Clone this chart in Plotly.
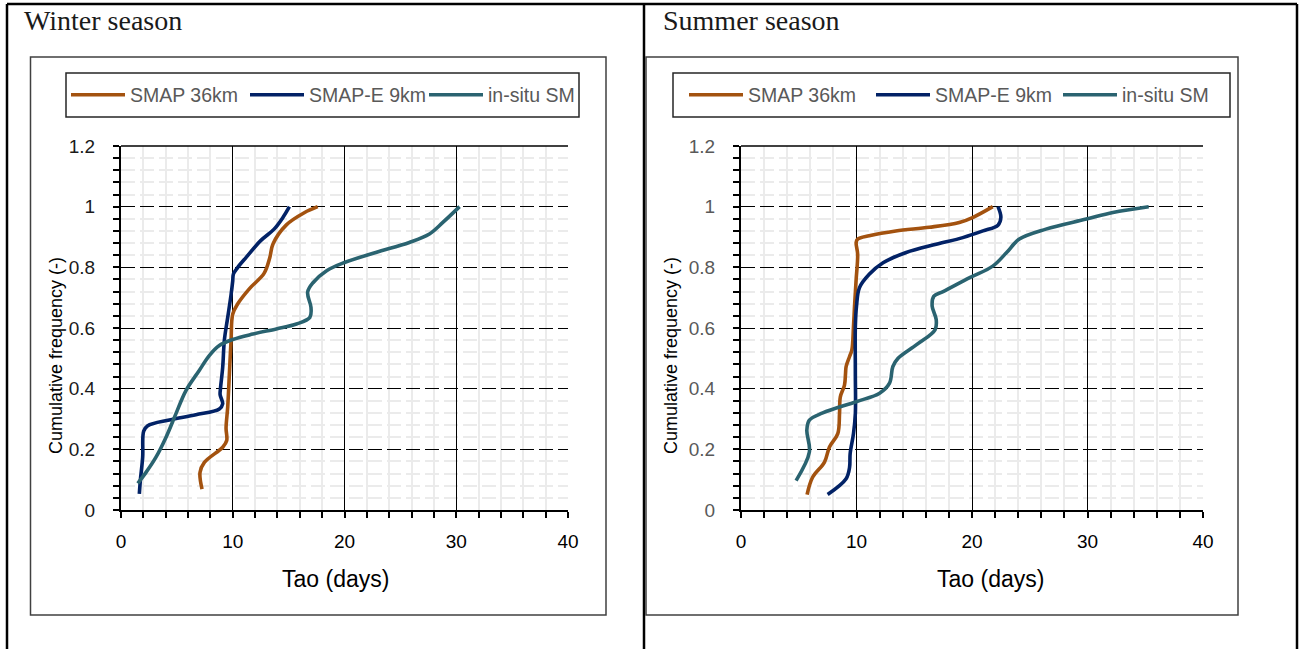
import plotly.graph_objects as go

W, H = 1306, 649

# ---------------- data ----------------
series_names = ["SMAP 36km", "SMAP-E 9km", "in-situ SM"]
series_colors = ["#A3520F", "#022266", "#2A6370"]

# Winter season
win_smap36_tau = [7.25, 7.07, 7.46, 9.1, 9.46, 9.4, 9.55, 9.7, 9.85, 10.0, 10.45, 11.5, 12.8, 13.3, 13.6, 14.8, 16.4, 17.6]
win_smap36_cf  = [0.069, 0.124, 0.157, 0.207, 0.229, 0.27, 0.34, 0.45, 0.56, 0.646, 0.68, 0.73, 0.78, 0.83, 0.877, 0.94, 0.98, 1.0]

win_smape9_tau = [1.64, 1.73, 1.94, 2.03, 2.39, 4.33, 6.7, 8.8, 9.1, 8.87, 8.9, 9.1, 9.25, 9.55, 9.85, 10.0, 10.06, 10.45, 11.2, 12.5, 13.7, 14.5, 15.07]
win_smape9_cf  = [0.053, 0.097, 0.174, 0.26, 0.278, 0.297, 0.314, 0.333, 0.35, 0.38, 0.4, 0.47, 0.56, 0.635, 0.71, 0.756, 0.778, 0.8, 0.833, 0.888, 0.926, 0.965, 1.0]

win_insitu_tau = [1.5, 2.24, 3.13, 4.03, 4.9, 5.8, 7.0, 7.9, 8.8, 10.0, 11.8, 13.9, 15.7, 16.9, 17.0, 16.7, 17.2, 18.4, 20.0, 22.8, 25.8, 27.6, 28.8, 30.3]
win_insitu_cf  = [0.088, 0.124, 0.174, 0.24, 0.316, 0.393, 0.46, 0.509, 0.542, 0.562, 0.58, 0.597, 0.613, 0.635, 0.668, 0.718, 0.75, 0.789, 0.816, 0.849, 0.882, 0.91, 0.948, 1.0]

# Summer season
sum_smap36_tau = [5.72, 6.2, 7.23, 7.66, 8.38, 8.53, 8.6, 8.96, 9.05, 9.1, 9.4, 9.6, 9.74, 9.83, 9.97, 10.1, 9.97, 10.1, 11.1, 13.4, 16.3, 18.9, 20.1, 21.8]
sum_smap36_cf  = [0.051, 0.108, 0.158, 0.208, 0.252, 0.318, 0.373, 0.412, 0.45, 0.473, 0.506, 0.528, 0.605, 0.672, 0.76, 0.843, 0.882, 0.893, 0.904, 0.92, 0.932, 0.948, 0.965, 1.0]

sum_smape9_tau = [7.5, 9.1, 9.4, 9.45, 9.74, 9.9, 9.9, 9.9, 10.0, 10.26, 11.1, 12.3, 14.3, 16.9, 19.2, 20.95, 22.25, 22.5, 22.25]
sum_smape9_cf  = [0.051, 0.103, 0.141, 0.186, 0.252, 0.318, 0.45, 0.605, 0.672, 0.733, 0.777, 0.815, 0.849, 0.876, 0.898, 0.92, 0.939, 0.965, 1.0]

sum_insitu_tau = [4.77, 5.92, 5.7, 5.92, 7.08, 9.97, 12.0, 12.86, 13.15, 13.6, 15.2, 16.8, 16.9, 16.55, 16.7, 17.5, 19.8, 21.8, 23.0, 24.1, 26.4, 29.9, 32.2, 35.3]
sum_insitu_cf  = [0.097, 0.191, 0.263, 0.296, 0.32, 0.357, 0.385, 0.418, 0.473, 0.5, 0.545, 0.594, 0.628, 0.672, 0.705, 0.72, 0.766, 0.804, 0.849, 0.893, 0.926, 0.959, 0.981, 1.0]

panel_titles = ["Winter season", "Summer season"]
x_title = "Tao (days)"
y_title = "Cumulative frequency (-)"

# ---------------- helpers ----------------
def fx(px):
    return px / W

def fy(py):
    return 1 - py / H

SANS = "Liberation Sans, Arial, sans-serif"
SERIF = "Liberation Serif, serif"

fig = go.Figure()

winter = [(win_smap36_tau, win_smap36_cf), (win_smape9_tau, win_smape9_cf), (win_insitu_tau, win_insitu_cf)]
summer = [(sum_smap36_tau, sum_smap36_cf), (sum_smape9_tau, sum_smape9_cf), (sum_insitu_tau, sum_insitu_cf)]

for i, (xs, ys) in enumerate(winter):
    fig.add_trace(go.Scatter(x=xs, y=ys, mode="lines", name=series_names[i],
                             line=dict(color=series_colors[i], width=3.6, shape="spline", smoothing=1.0),
                             xaxis="x", yaxis="y", legend="legend"))
for i, (xs, ys) in enumerate(summer):
    fig.add_trace(go.Scatter(x=xs, y=ys, mode="lines", name=series_names[i],
                             line=dict(color=series_colors[i], width=3.6, shape="spline", smoothing=1.0),
                             xaxis="x2", yaxis="y2", legend="legend2"))

def xaxis_cfg(domain, anchor):
    return dict(domain=domain, anchor=anchor, range=[0, 40], dtick=10, tick0=0,
                showline=True, linecolor="black", linewidth=2, zeroline=False,
                ticks="outside", ticklen=6, tickwidth=2, tickcolor="black",
                showgrid=True, gridcolor="black", gridwidth=1,
                minor=dict(dtick=2, ticks="outside", ticklen=6, tickwidth=2, tickcolor="black",
                           showgrid=True, gridcolor="#EBEBEB", gridwidth=2),
                tickfont=dict(family=SANS, size=19, color="black"),
                ticklabelstandoff=7, fixedrange=True, automargin=False)

def yaxis_cfg(domain, anchor, labelcolor):
    return dict(domain=domain, anchor=anchor, range=[0, 1.2], dtick=0.2, tick0=0,
                showline=True, linecolor="black", linewidth=2, zeroline=False,
                ticks="outside", ticklen=6, tickwidth=2, tickcolor="black",
                showgrid=True, gridcolor="black", gridwidth=1, griddash="14px,5px",
                minor=dict(dtick=0.04, ticks="outside", ticklen=6, tickwidth=2, tickcolor="black",
                           showgrid=True, gridcolor="#EBEBEB", gridwidth=2),
                tickfont=dict(family=SANS, size=19, color=labelcolor),
                ticklabelstandoff=14, fixedrange=True, automargin=False)

ydom = [fy(510), fy(146)]
fig.update_layout(
    width=W, height=H, margin=dict(l=0, r=0, t=0, b=0, autoexpand=False),
    paper_bgcolor="white", plot_bgcolor="white",
    xaxis=xaxis_cfg([fx(121), fx(568)], "y"),
    yaxis=yaxis_cfg(ydom, "x", "#1a1a1a"),
    xaxis2=xaxis_cfg([fx(741), fx(1203)], "y2"),
    yaxis2=yaxis_cfg(ydom, "x2", "#595959"),
    legend=dict(orientation="h", x=fx(66), y=fy(95), xanchor="left", yanchor="middle",
                bgcolor="rgba(0,0,0,0)", borderwidth=0,
                font=dict(family=SANS, size=19.5, color="#595959"),
                entrywidth=110, entrywidthmode="pixels", itemwidth=54),
    legend2=dict(orientation="h", x=fx(684), y=fy(95), xanchor="left", yanchor="middle",
                 bgcolor="rgba(0,0,0,0)", borderwidth=0,
                 font=dict(family=SANS, size=19.5, color="#595959"),
                 entrywidth=118, entrywidthmode="pixels", itemwidth=54),
    showlegend=True,
)

shapes = []
# table borders
for xv in [7, 644, 1297]:
    shapes.append(dict(type="line", xref="paper", yref="paper", x0=fx(xv), x1=fx(xv), y0=fy(4), y1=fy(660),
                       line=dict(color="black", width=2.5)))
shapes.append(dict(type="line", xref="paper", yref="paper", x0=fx(7), x1=fx(1297), y0=fy(4), y1=fy(4),
                   line=dict(color="black", width=2.5)))
# chart frames
for (x0, x1) in [(30.5, 606), (646, 1238)]:
    shapes.append(dict(type="rect", xref="paper", yref="paper", x0=fx(x0), x1=fx(x1), y0=fy(615), y1=fy(57),
                       line=dict(color="#404040", width=1.5)))
# legend boxes
for (x0, x1) in [(66, 579), (673, 1230)]:
    shapes.append(dict(type="rect", xref="paper", yref="paper", x0=fx(x0), x1=fx(x1), y0=fy(117), y1=fy(73),
                       line=dict(color="#262626", width=1.5)))
# plot-area top border
for xr, yr in [("x domain", "y domain"), ("x2 domain", "y2 domain")]:
    shapes.append(dict(type="line", xref=xr, yref=yr, x0=0, x1=1, y0=1, y1=1,
                       line=dict(color="black", width=1.5)))
fig.update_layout(shapes=shapes)

annotations = [
    dict(text=panel_titles[0], x=fx(22), y=fy(21), xref="paper", yref="paper", xanchor="left", yanchor="middle",
         showarrow=False, font=dict(family=SERIF, size=28, color="#1a1a1a")),
    dict(text=panel_titles[1], x=fx(661), y=fy(21), xref="paper", yref="paper", xanchor="left", yanchor="middle",
         showarrow=False, font=dict(family=SERIF, size=28, color="#1a1a1a")),
    dict(text=x_title, x=fx(335), y=fy(579), xref="paper", yref="paper", xanchor="center", yanchor="middle",
         showarrow=False, font=dict(family=SANS, size=23, color="black")),
    dict(text=x_title, x=fx(990), y=fy(579), xref="paper", yref="paper", xanchor="center", yanchor="middle",
         showarrow=False, font=dict(family=SANS, size=23, color="black")),
    dict(text=y_title, x=fx(56), y=fy(356), xref="paper", yref="paper", xanchor="center", yanchor="middle",
         textangle=-90, showarrow=False, font=dict(family=SANS, size=18, color="black")),
    dict(text=y_title, x=fx(671), y=fy(356), xref="paper", yref="paper", xanchor="center", yanchor="middle",
         textangle=-90, showarrow=False, font=dict(family=SANS, size=18, color="black")),
]
fig.update_layout(annotations=annotations)

fig.write_html("out.html")
